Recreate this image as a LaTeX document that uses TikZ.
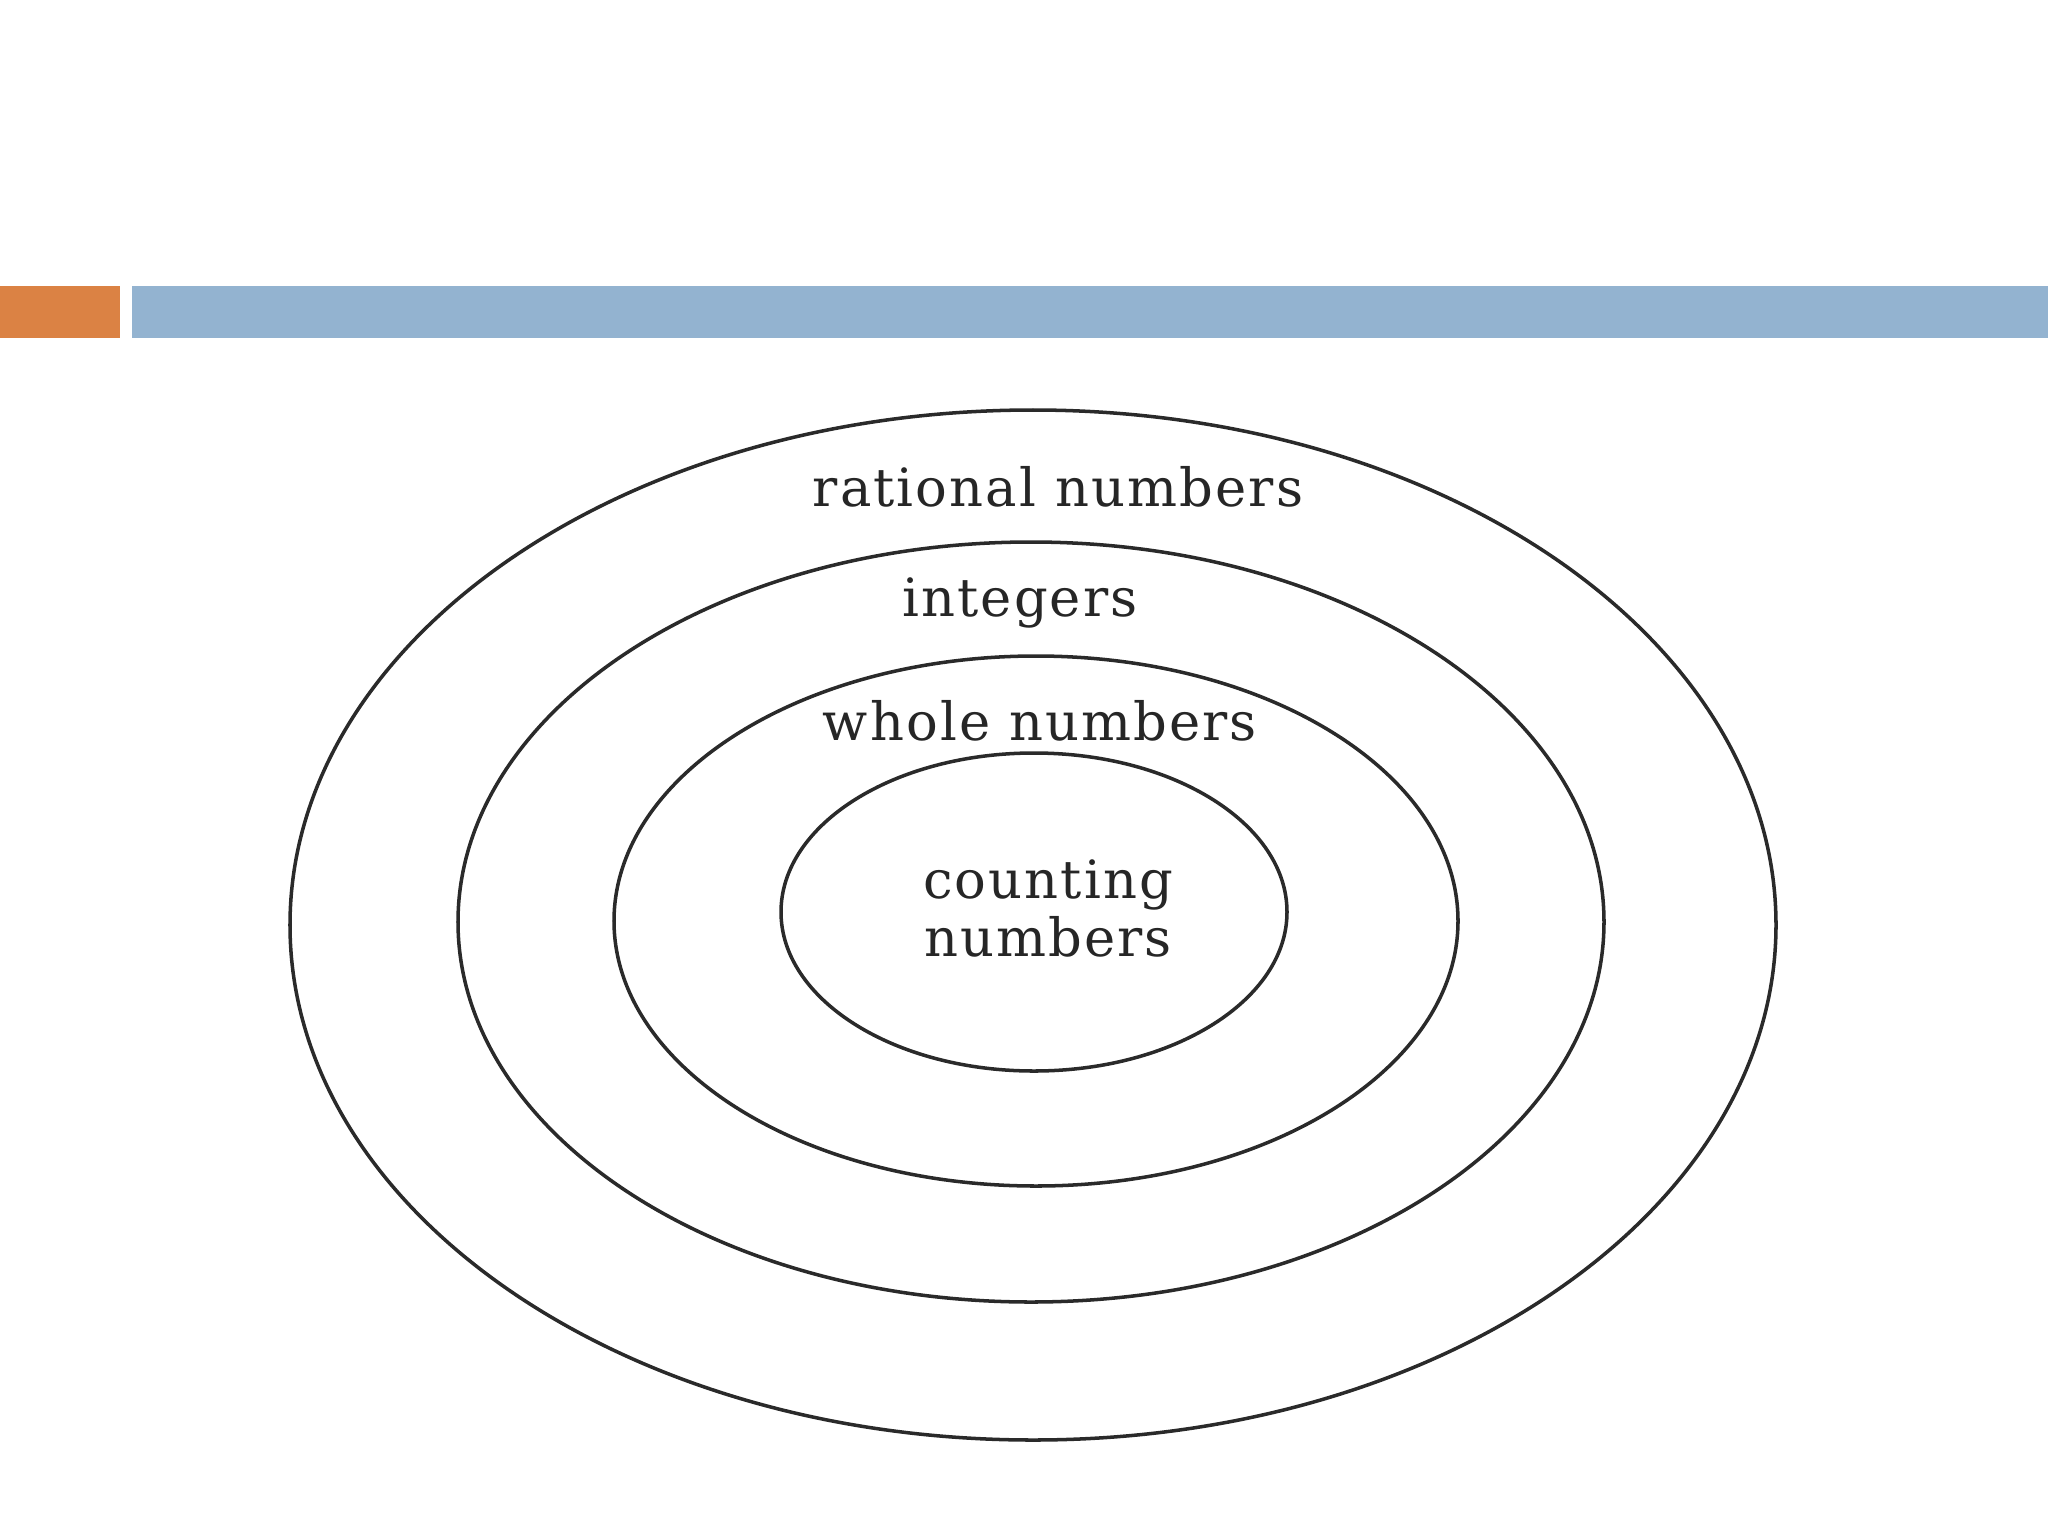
\documentclass[tikz,border=0pt]{standalone}
\usepackage{fontspec}
\setmainfont[LetterSpace=4]{DejaVu Serif}
\definecolor{barorange}{HTML}{DB8244}
\definecolor{barblue}{HTML}{93B3D0}
\definecolor{ink}{HTML}{2A2A2A}
\begin{document}
\begin{tikzpicture}[x=0.01cm,y=-0.01cm,
  ring/.style={draw=ink,line width=1pt},
  lbl/.style={text=black!85,font=\fontsize{15}{16.5}\selectfont,inner sep=0pt,align=center}]
\useasboundingbox (0,0) rectangle (2048,1536);
\fill[barorange] (0,286) rectangle (120,338);
\fill[barblue] (132,286) rectangle (2048,338);
\path[ring] (1033,925) ellipse [x radius=743, y radius=515];
\path[ring] (1031,922) ellipse [x radius=573, y radius=380];
\path[ring] (1036,921) ellipse [x radius=422, y radius=265];
\path[ring] (1034,912) ellipse [x radius=253, y radius=159];
\node[lbl] (rat) at (1058,487) {rational numbers};
\node[lbl] (int) at (1020,603) {integers};
\node[lbl] (who) at (1040,721) {whole numbers};
\node[lbl] (cnt) at (1048,908) {counting\\numbers};
\end{tikzpicture}
\end{document}
